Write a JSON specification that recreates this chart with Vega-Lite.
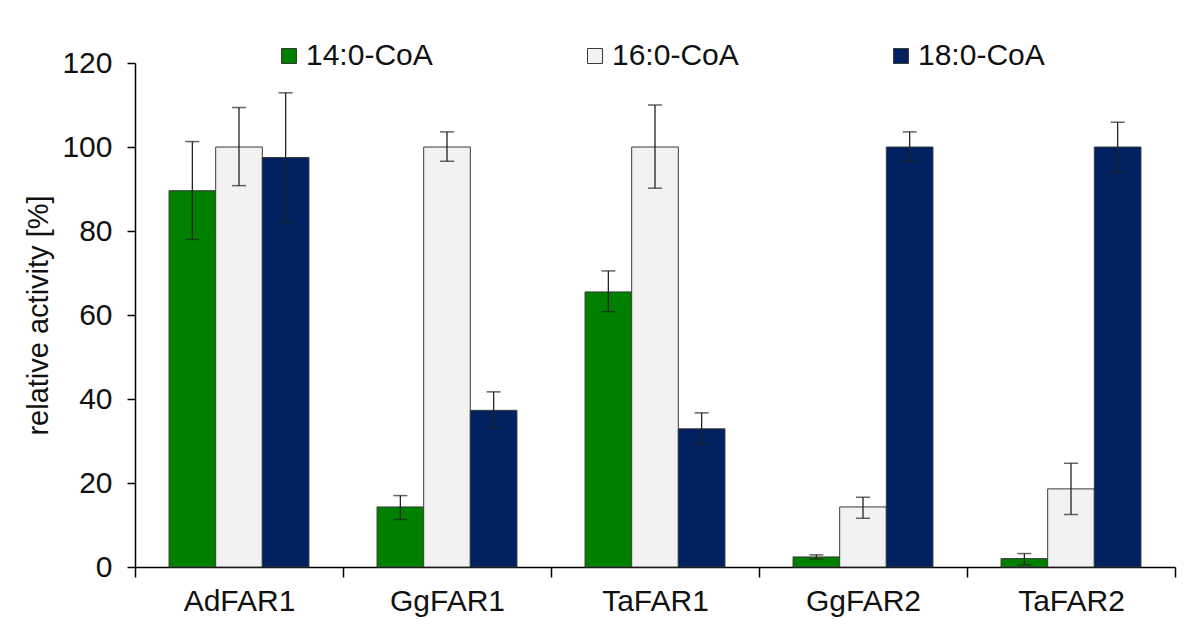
{
  "$schema": "https://vega.github.io/schema/vega-lite/v6.json",
  "autosize": {"type": "none"},
  "width": 1040,
  "height": 504,
  "padding": {"left": 135, "top": 63, "right": 25, "bottom": 74},
  "background": "white",
  "config": {
    "font": "Liberation Sans",
    "view": {"stroke": null},
    "axis": {"domainColor": "#000000", "tickColor": "#000000", "labelColor": "#111111", "titleColor": "#111111", "grid": false, "labelFont": "Liberation Sans", "titleFont": "Liberation Sans"}
  },
  "data": {
    "values": [
      {"enzyme": "AdFAR1", "substrate": "14:0-CoA", "value": 89.6, "lo": 78.0, "hi": 101.3},
      {"enzyme": "AdFAR1", "substrate": "16:0-CoA", "value": 100.0, "lo": 90.8, "hi": 109.4},
      {"enzyme": "AdFAR1", "substrate": "18:0-CoA", "value": 97.5, "lo": 82.1, "hi": 112.9},
      {"enzyme": "GgFAR1", "substrate": "14:0-CoA", "value": 14.3, "lo": 11.3, "hi": 17.0},
      {"enzyme": "GgFAR1", "substrate": "16:0-CoA", "value": 100.0, "lo": 96.6, "hi": 103.6},
      {"enzyme": "GgFAR1", "substrate": "18:0-CoA", "value": 37.3, "lo": 33.2, "hi": 41.7},
      {"enzyme": "TaFAR1", "substrate": "14:0-CoA", "value": 65.5, "lo": 60.8, "hi": 70.5},
      {"enzyme": "TaFAR1", "substrate": "16:0-CoA", "value": 100.0, "lo": 90.2, "hi": 110.0},
      {"enzyme": "TaFAR1", "substrate": "18:0-CoA", "value": 32.9, "lo": 29.3, "hi": 36.7},
      {"enzyme": "GgFAR2", "substrate": "14:0-CoA", "value": 2.4, "lo": 1.9, "hi": 2.9},
      {"enzyme": "GgFAR2", "substrate": "16:0-CoA", "value": 14.3, "lo": 11.6, "hi": 16.6},
      {"enzyme": "GgFAR2", "substrate": "18:0-CoA", "value": 100.0, "lo": 96.6, "hi": 103.6},
      {"enzyme": "TaFAR2", "substrate": "14:0-CoA", "value": 2.0, "lo": 0.5, "hi": 3.2},
      {"enzyme": "TaFAR2", "substrate": "16:0-CoA", "value": 18.6, "lo": 12.5, "hi": 24.7},
      {"enzyme": "TaFAR2", "substrate": "18:0-CoA", "value": 100.0, "lo": 94.0, "hi": 105.9}
    ]
  },
  "encoding": {
    "x": {
      "field": "enzyme", "type": "nominal",
      "sort": ["AdFAR1", "GgFAR1", "TaFAR1", "GgFAR2", "TaFAR2"],
      "scale": {"paddingInner": 0, "paddingOuter": 0},
      "axis": {"title": null, "labelAngle": 0, "labelFontSize": 30, "labelPadding": 9, "tickBand": "extent", "tickSize": 10, "domainWidth": 1.5, "tickWidth": 1.5}
    },
    "xOffset": {
      "field": "substrate", "type": "nominal",
      "sort": ["14:0-CoA", "16:0-CoA", "18:0-CoA"],
      "scale": {"paddingInner": 0, "paddingOuter": 0.73}
    }
  },
  "layer": [
    {
      "mark": {"type": "bar", "stroke": "#3a3a3a", "strokeWidth": 1},
      "encoding": {
        "y": {
          "field": "value", "type": "quantitative",
          "scale": {"domain": [0, 120], "nice": false},
          "axis": {"title": "relative activity [%]", "titleFontSize": 29, "titleFontWeight": "normal", "titlePadding": 8, "values": [0, 20, 40, 60, 80, 100, 120], "labelFontSize": 30, "labelPadding": 15, "tickSize": 8, "domainWidth": 1.5, "tickWidth": 1.5}
        },
        "color": {
          "field": "substrate", "type": "nominal",
          "scale": {"domain": ["14:0-CoA", "16:0-CoA", "18:0-CoA"], "range": ["#008000", "#f2f2f2", "#002060"]},
          "legend": {
            "title": null, "orient": "none", "direction": "horizontal",
            "legendX": 139, "legendY": -22, "padding": 0,
            "symbolType": "square", "symbolSize": 225,
            "symbolStrokeColor": "#3a3a3a", "symbolStrokeWidth": 1,
            "labelFontSize": 30, "labelColor": "#111111", "labelOffset": 2,
            "columnPadding": 147
          }
        }
      }
    },
    {
      "mark": {"type": "rule", "color": "#222222", "strokeWidth": 1.3},
      "encoding": {
        "y": {"field": "lo", "type": "quantitative"},
        "y2": {"field": "hi"}
      }
    },
    {
      "mark": {"type": "tick", "color": "#222222", "size": 14, "thickness": 1.5},
      "encoding": {
        "y": {"field": "lo", "type": "quantitative"}
      }
    },
    {
      "mark": {"type": "tick", "color": "#222222", "size": 14, "thickness": 1.5},
      "encoding": {
        "y": {"field": "hi", "type": "quantitative"}
      }
    }
  ]
}
